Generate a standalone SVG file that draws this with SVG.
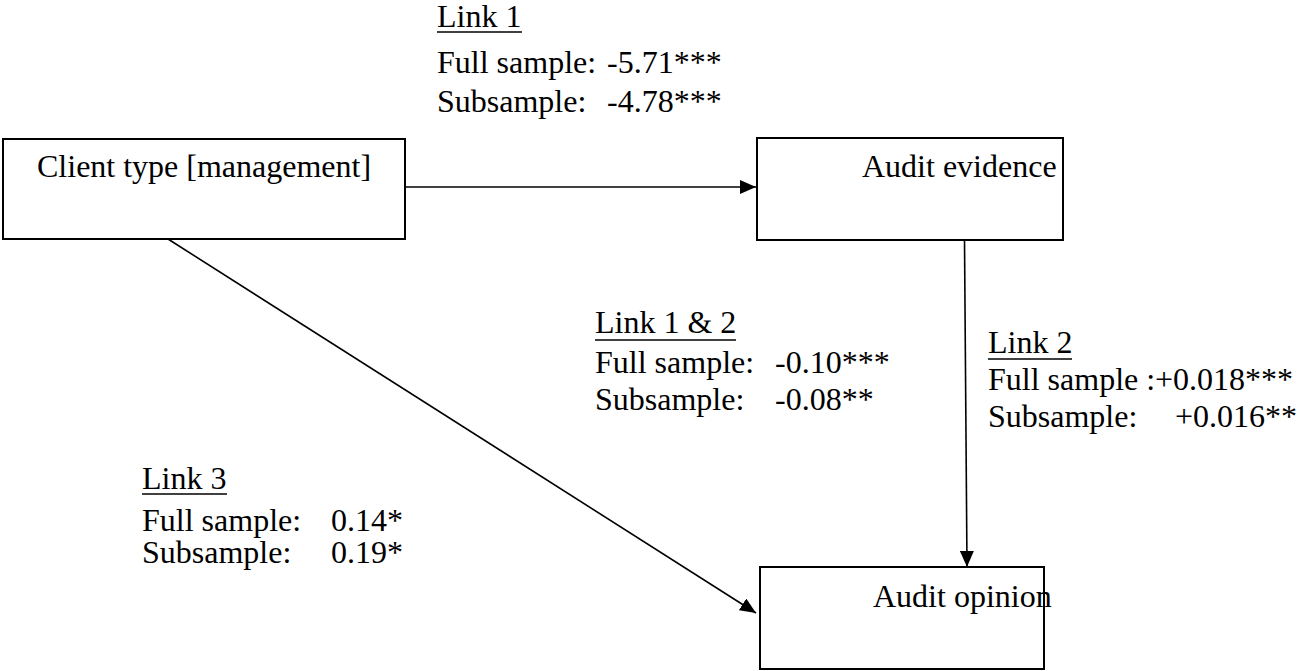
<svg xmlns="http://www.w3.org/2000/svg" width="1314" height="671" viewBox="0 0 1314 671">
<style>
.box{fill:#fff;stroke:#000;stroke-width:2}
.t{font-family:"Liberation Serif","Times New Roman",serif;font-size:32px;fill:#000}
.edge{stroke:#000;stroke-width:1.6;fill:none}
.ul{stroke:#000;stroke-width:1.6}
</style>
<defs>
<marker id="ah" markerUnits="userSpaceOnUse" markerWidth="16" markerHeight="14" refX="16" refY="7" orient="auto">
<path d="M0,0 L16,7 L0,14 Z" fill="#000"/>
</marker>
</defs>
<rect width="1314" height="671" fill="#fff"/>
<g id="connectors">
<line class="edge" x1="405" y1="187" x2="756" y2="187" marker-end="url(#ah)"/>
<line class="edge" x1="964.5" y1="240" x2="967" y2="567" marker-end="url(#ah)"/>
<line class="edge" x1="168" y1="239" x2="756" y2="613" marker-end="url(#ah)"/>
</g>
<g id="node-client">
<rect class="box" x="3" y="139" width="402" height="100"/>
<text class="t" x="37" y="177">Client type [management]</text>
</g>
<g id="node-evidence">
<rect class="box" x="757" y="138" width="306" height="102"/>
<text class="t" x="862" y="177">Audit evidence</text>
</g>
<g id="node-opinion">
<rect class="box" x="760" y="567" width="284" height="102"/>
<text class="t" x="873" y="607">Audit opinion</text>
</g>
<g id="label-link1">
<text class="t" x="437" y="27">Link 1</text>
<line class="ul" x1="437" y1="32" x2="522" y2="32"/>
<text class="t" x="437" y="73">Full sample:</text>
<text class="t" x="607" y="73">-5.71***</text>
<text class="t" x="437" y="112">Subsample:</text>
<text class="t" x="607" y="112">-4.78***</text>
</g>
<g id="label-link12">
<text class="t" x="595" y="333">Link 1 &amp; 2</text>
<line class="ul" x1="595" y1="340" x2="736" y2="340"/>
<text class="t" x="595" y="373">Full sample:</text>
<text class="t" x="775" y="373">-0.10***</text>
<text class="t" x="595" y="410">Subsample:</text>
<text class="t" x="775" y="410">-0.08**</text>
</g>
<g id="label-link2">
<text class="t" x="988" y="353">Link 2</text>
<line class="ul" x1="988" y1="359" x2="1072" y2="359"/>
<text class="t" x="988" y="390">Full sample :</text>
<text class="t" x="1155" y="390">+0.018***</text>
<text class="t" x="988" y="427">Subsample:</text>
<text class="t" x="1175" y="427">+0.016**</text>
</g>
<g id="label-link3">
<text class="t" x="142" y="489">Link 3</text>
<line class="ul" x1="142" y1="494" x2="227" y2="494"/>
<text class="t" x="142" y="531">Full sample:</text>
<text class="t" x="331" y="531">0.14*</text>
<text class="t" x="142" y="563">Subsample:</text>
<text class="t" x="331" y="563">0.19*</text>
</g>
</svg>
